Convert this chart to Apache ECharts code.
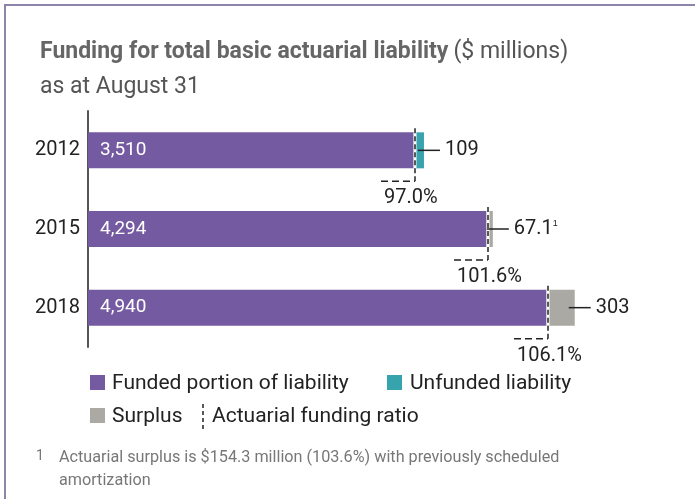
<!DOCTYPE html>
<html>
<head>
    <meta charset="utf-8">
    <title>Funding for total basic actuarial liability</title>
    <script src="https://cdn.jsdelivr.net/npm/echarts@6/dist/echarts.min.js"></script>
    <style>
        html, body { margin: 0; padding: 0; background: #fff; }
        #main { width: 695px; height: 499px; }
    </style>
</head>
<body>
<div id="main"></div>
<script>
    // values ($ millions)
    var years = ['2012', '2015', '2018'];
    var funded = [3510, 4294, 4940];
    var unfunded = [109, null, null];
    var surplus = [null, 67.1, 303];
    var ratios = ['97.0%', '101.6%', '106.1%'];
    var sideLabels = ['109', '67.1', '303'];
    var sideNotes = ['', '1', ''];
    var legendNames = ['Funded portion of liability', 'Unfunded liability', 'Surplus', 'Actuarial funding ratio'];

    var PURPLE = '#745aa0', TEAL = '#36a3ad', GREY = '#aaa9a3', INK = '#222';
    var FONT = 'Roboto, "Noto Sans", sans-serif';

    var myChart = echarts.init(document.getElementById('main'));

    function fmt(v) {
        return v.toLocaleString('en-US');
    }

    // end of each bar = funded + unfunded + surplus
    var ratioData = years.map(function (y, i) {
        var total = funded[i] + (unfunded[i] || 0) + (surplus[i] || 0);
        return [funded[i], i, total];
    });

    var legendGraphics = [];
    // row 1
    legendGraphics.push({type: 'rect', left: 90, top: 375, shape: {width: 15, height: 15}, style: {fill: PURPLE}});
    legendGraphics.push({type: 'text', left: 112, top: 373, style: {text: legendNames[0], font: '21px ' + FONT, fill: INK}});
    legendGraphics.push({type: 'rect', left: 387, top: 375, shape: {width: 15, height: 15}, style: {fill: TEAL}});
    legendGraphics.push({type: 'text', left: 410, top: 373, style: {text: legendNames[1], font: '21px ' + FONT, fill: INK}});
    // row 2
    legendGraphics.push({type: 'rect', left: 90, top: 408, shape: {width: 15, height: 15}, style: {fill: GREY}});
    legendGraphics.push({type: 'text', left: 112, top: 406, style: {text: legendNames[2], font: '21px ' + FONT, fill: INK}});
    legendGraphics.push({type: 'line', shape: {x1: 203, y1: 404, x2: 203, y2: 430}, style: {stroke: INK, lineWidth: 1.5, lineDash: [4, 3]}});
    legendGraphics.push({type: 'text', left: 212, top: 406, style: {text: legendNames[3], font: '21px ' + FONT, fill: INK}});

    var option = {
        animation: false,
        backgroundColor: '#fff',
        title: {
            left: 35,
            top: 30,
            text: '{b|Funding for total basic actuarial liability} {r|($ millions)}\n{r|as at August 31}',
            textStyle: {
                rich: {
                    b: {fontFamily: FONT, fontWeight: 'bold', fontSize: 23, color: '#666', lineHeight: 35},
                    r: {fontFamily: FONT, fontWeight: 'normal', fontSize: 23, color: '#555', lineHeight: 35}
                }
            }
        },
        grid: {left: 88, top: 111, width: 557, height: 236},
        xAxis: {type: 'value', min: 0, max: 6000, show: false},
        yAxis: {
            type: 'category',
            data: years,
            inverse: true,
            axisLine: {lineStyle: {color: '#555', width: 2}},
            axisTick: {show: false},
            axisLabel: {fontSize: 20, color: INK, fontFamily: FONT, margin: 8}
        },
        graphic: [
            {type: 'line', shape: {x1: 4, y1: 5, x2: 695, y2: 5}, style: {stroke: '#8e84aa', lineWidth: 2}},
            {type: 'line', shape: {x1: 5, y1: 4, x2: 5, y2: 499}, style: {stroke: '#8e84aa', lineWidth: 2}},
            {type: 'text', left: 36, top: 449, style: {text: '1', font: '14px ' + FONT, fill: '#777'}},
            {type: 'text', left: 59, top: 446, style: {
                text: 'Actuarial surplus is $154.3 million (103.6%) with previously scheduled\namortization',
                font: '16.2px ' + FONT, fill: '#777', lineHeight: 23}}
        ].concat(legendGraphics),
        series: [
            {
                name: legendNames[0], type: 'bar', stack: 'a', barWidth: 36, data: funded,
                itemStyle: {color: PURPLE},
                label: {
                    show: true, position: 'insideLeft', distance: 12, color: '#fff',
                    fontSize: 19, fontFamily: FONT,
                    formatter: function (p) { return fmt(p.value); }
                }
            },
            {name: legendNames[1], type: 'bar', stack: 'a', barWidth: 36, data: unfunded, itemStyle: {color: TEAL}},
            {name: legendNames[2], type: 'bar', stack: 'a', barWidth: 36, data: surplus, itemStyle: {color: GREY}},
            {
                name: legendNames[3],
                type: 'custom',
                z: 10,
                data: ratioData,
                renderItem: function (params, api) {
                    var i = params.dataIndex;
                    var p = api.coord([api.value(0), api.value(1)]);
                    var e = api.coord([api.value(2), api.value(1)]);
                    var x = Math.round(p[0]) + 1, y = p[1];
                    var ex = e[0];
                    return {
                        type: 'group',
                        children: [
                            // white gap at the end of the funded part
                            {type: 'line', shape: {x1: x, y1: y - 18, x2: x, y2: y + 18}, style: {stroke: '#fff', lineWidth: 3}},
                            {type: 'line', shape: {x1: x, y1: y - 22, x2: x, y2: y + 31}, style: {stroke: INK, lineWidth: 1.5, lineDash: [5, 3]}},
                            {type: 'line', shape: {x1: x - 34, y1: y + 31, x2: x, y2: y + 31}, style: {stroke: INK, lineWidth: 1.5, lineDash: [7, 4]}},
                            {type: 'text', style: {text: ratios[i], x: x - 31, y: y + 48, fill: INK, fontSize: 20, fontFamily: FONT, verticalAlign: 'middle'}},
                            // leader + value of the second part
                            {type: 'line', shape: {x1: ex - 6, y1: y, x2: ex + 16, y2: y}, style: {stroke: INK, lineWidth: 1.5}},
                            {type: 'text', style: {
                                text: sideLabels[i] + (sideNotes[i] ? '{s|' + sideNotes[i] + '}' : ''),
                                x: ex + 21, y: y, fill: INK, fontSize: 20, fontFamily: FONT, verticalAlign: 'middle',
                                rich: {s: {fontSize: 9, fill: INK, verticalAlign: 'top'}}
                            }}
                        ]
                    };
                }
            }
        ]
    };
    myChart.setOption(option);
</script>
</body>
</html>
